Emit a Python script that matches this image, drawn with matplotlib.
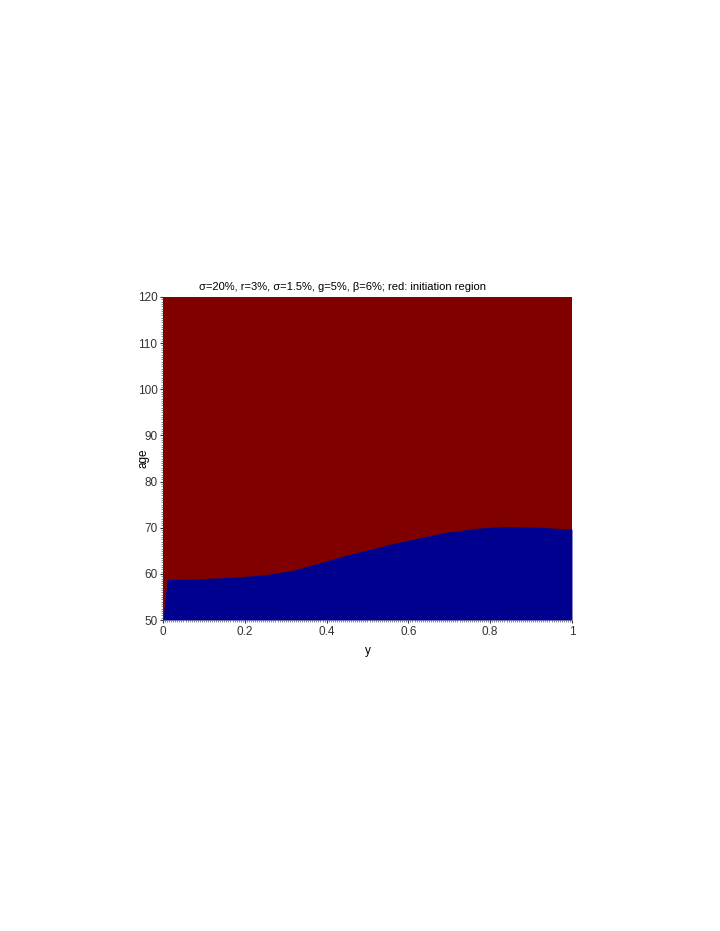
import numpy as np
import matplotlib.pyplot as plt
from matplotlib.ticker import MultipleLocator

plt.rcParams['font.family'] = ['Liberation Sans', 'DejaVu Sans']

# boundary between the two regions
y_pts = [0.0, 0.01, 0.073, 0.156, 0.25, 0.318, 0.384, 0.45, 0.5, 0.563, 0.685, 0.767, 0.84, 0.92, 1.0]
age_bound = [50.0, 58.8, 58.9, 59.2, 59.8, 60.8, 62.4, 64.1, 65.2, 66.6, 68.9, 69.9, 70.3, 70.1, 69.7]

age_min, age_max = 50, 120
red = '#800000'
blue = '#00008f'

fig = plt.figure(figsize=(7.2, 9.31), dpi=100)
ax = fig.add_axes([0.2264, 0.334, 0.568, 0.347])
ax.set_facecolor(red)
ax.fill_between(y_pts, age_min, age_bound, color=blue, lw=0)

ax.set_xlim(0, 1)
ax.set_ylim(age_min, age_max)
ax.set_xticks([0, 0.2, 0.4, 0.6, 0.8, 1])
ax.set_xticklabels(['0', '0.2', '0.4', '0.6', '0.8', '1'])
ax.xaxis.set_minor_locator(MultipleLocator(0.005))
ax.yaxis.set_minor_locator(MultipleLocator(0.5))
ax.tick_params(which='major', length=2, width=0.8, labelsize=8.5, colors='#333333', pad=2)
ax.tick_params(which='minor', length=1.5, width=0.5, colors='#555555')
for s in ax.spines.values():
    s.set_visible(False)

ax.set_xlabel('y', fontsize=8.5, labelpad=5)
ax.set_ylabel('age', fontsize=8.5)
ax.yaxis.set_label_coords(-0.032, 0.5)
ax.set_title('σ=20%, r=3%, σ=1.5%, g=5%, β=6%; red: initiation region',
             fontsize=8, x=0.44, pad=5)

fig.savefig('out.png', dpi=100)
